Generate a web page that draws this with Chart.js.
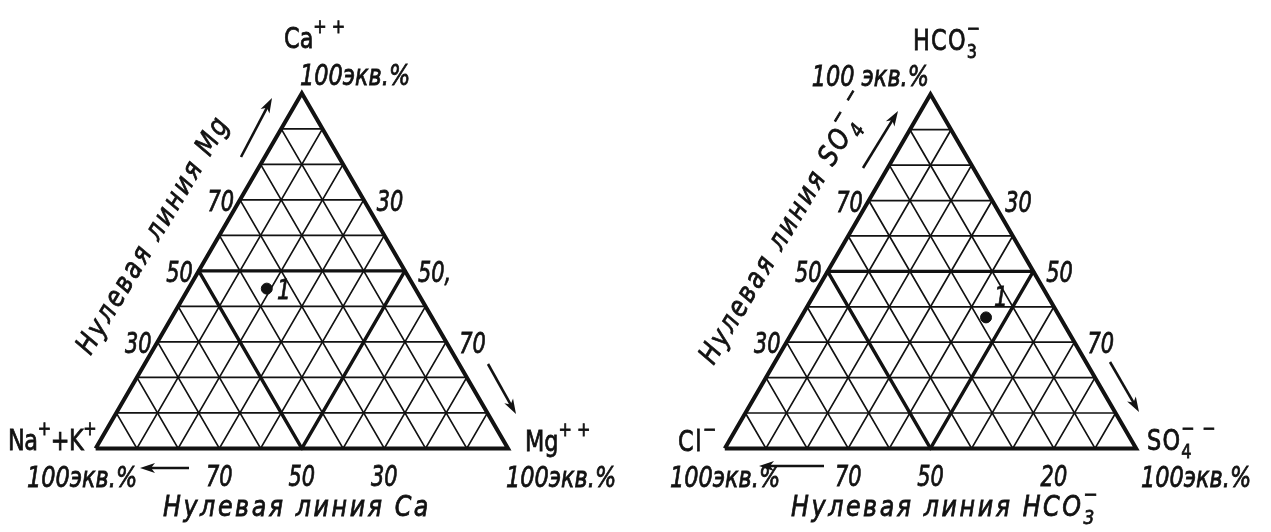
<!DOCTYPE html>
<html>
<head>
<meta charset="utf-8">
<script src="https://cdn.jsdelivr.net/npm/chart.js@4.4.1/dist/chart.umd.min.js"></script>
<style>
  body { margin: 0; background: #fff; width: 1271px; height: 532px; overflow: hidden; position: relative; }
  canvas { position: absolute; top: 0; }
  #cations { left: 0; }
  #anions { left: 636px; }
</style>
</head>
<body>
<canvas id="cations" width="636" height="532"></canvas>
<canvas id="anions" width="635" height="532"></canvas>
<script>
// grid every 10 equiv. %, the 50 % lines are drawn heavy
const gridLevels = [10, 20, 30, 40, 50, 60, 70, 80, 90];
const boldLevel = 50;

// tick labels on the sides
const leftSideTicks = [70, 50, 30];
const rightSideTicks = ['30', '50,', '70'];
const rightSideTicksAnion = ['30', '50', '70'];
const cationBottomTicks = [70, 50, 30];
const anionBottomTicks = [70, 50, 20];

// water sample 1, equiv. %: [top corner, right corner, left corner]
const cationSample = [45, 19, 36]; // Ca, Mg, Na+K
const anionSample = [37, 45, 18];  // HCO3, SO4, Cl

const INK = '#121212';
const FAM = "'DejaVu Sans', sans-serif";

// ternary -> plot units (side = 1, height = 1)
const toXY = (top, right) => ({ x: right / 100 + top / 200, y: top / 100 });

function seg(a, b, width) {
  return {
    data: [a, b],
    showLine: true,
    borderColor: INK,
    borderWidth: width,
    pointRadius: 0,
    borderCapStyle: 'round',
  };
}

function triangleDatasets(sample) {
  const sets = [];
  gridLevels.forEach((k) => {
    const w = k === boldLevel ? 3.4 : 1.7;
    sets.push(seg(toXY(k, 0), toXY(k, 100 - k), w));        // constant top
    sets.push(seg(toXY(0, k), toXY(100 - k, k), w));        // constant right
    sets.push(seg(toXY(0, 100 - k), toXY(100 - k, 0), w));  // constant left
  });
  sets.push({
    data: [toXY(0, 0), toXY(0, 100), toXY(100, 0), toXY(0, 0)],
    showLine: true,
    borderColor: INK,
    borderWidth: 4,
    borderJoinStyle: 'miter',
    pointRadius: 0,
  });
  sets.push({
    data: [toXY(sample[0], sample[1])],
    pointRadius: 5.5,
    pointBackgroundColor: INK,
    pointBorderColor: INK,
  });
  return sets;
}

// text with sub/superscripts: runs of [text, kind], kind n | sup | sub | over
function rich(ctx, runs, x, y, o) {
  const fontFor = (k) => (o.italic ? 'italic ' : '') + Math.round(k === 'n' ? o.size : o.size * 0.72) + 'px ' + FAM;
  ctx.save();
  ctx.fillStyle = INK;
  ctx.strokeStyle = INK;
  ctx.lineWidth = 0.8;
  ctx.textBaseline = 'alphabetic';
  ctx.letterSpacing = (o.spacing || 0) + 'px';
  let w = 0;
  let prevStart = 0;
  const placed = [];
  runs.forEach(([t, k]) => {
    ctx.font = fontFor(k);
    const tw = ctx.measureText(t).width;
    if (k === 'over') {
      placed.push({ t, k, sx: prevStart });
    } else {
      placed.push({ t, k, sx: w });
      prevStart = w;
      w += tw;
    }
  });
  ctx.translate(x, y);
  if (o.angle) ctx.rotate(o.angle * Math.PI / 180);
  ctx.scale(o.sx || 0.8, 1);
  const off = o.align === 'center' ? -w / 2 : o.align === 'right' ? -w : 0;
  placed.forEach((p) => {
    ctx.font = fontFor(p.k);
    let dy = 0;
    if (p.k === 'sup' || p.k === 'over') dy = -o.size * 0.55;
    if (p.k === 'sub') dy = o.size * 0.3;
    ctx.fillText(p.t, off + p.sx, dy + (o.dy || 0));
    ctx.strokeText(p.t, off + p.sx, dy + (o.dy || 0)); // heavier pen, like the drawing
  });
  ctx.restore();
}

function arrow(ctx, x1, y1, x2, y2) {
  const a = Math.atan2(y2 - y1, x2 - x1);
  ctx.save();
  ctx.strokeStyle = INK;
  ctx.fillStyle = INK;
  ctx.lineWidth = 2.6;
  ctx.beginPath();
  ctx.moveTo(x1, y1);
  ctx.lineTo(x2 - 8 * Math.cos(a), y2 - 8 * Math.sin(a));
  ctx.stroke();
  ctx.beginPath();
  ctx.moveTo(x2, y2);
  ctx.lineTo(x2 - 15 * Math.cos(a) + 5 * Math.sin(a), y2 - 15 * Math.sin(a) - 5 * Math.cos(a));
  ctx.lineTo(x2 - 11 * Math.cos(a), y2 - 11 * Math.sin(a));
  ctx.lineTo(x2 - 15 * Math.cos(a) - 5 * Math.sin(a), y2 - 15 * Math.sin(a) + 5 * Math.cos(a));
  ctx.closePath();
  ctx.fill();
  ctx.restore();
}

function tickLabels(chart, leftTicks, rightTicks, bottomTicks) {
  const { ctx } = chart;
  const px = (p) => [chart.scales.x.getPixelForValue(p.x), chart.scales.y.getPixelForValue(p.y)];
  const it = { size: 29, italic: true, dy: 10, sx: 0.72 };
  leftTicks.forEach((v) => {
    const [x, y] = px(toXY(v, 0));
    rich(ctx, [[String(v), 'n']], x - 6, y + 1, { ...it, align: 'right' });
  });
  rightTicks.forEach((v) => {
    const [x, y] = px(toXY(100 - parseInt(v, 10), parseInt(v, 10)));
    rich(ctx, [[v, 'n']], x + 13, y + 1, { ...it, align: 'left' });
  });
  bottomTicks.forEach((v) => {
    const [x] = px(toXY(0, 100 - v));
    rich(ctx, [[String(v), 'n']], x, 476, { ...it, align: 'center' });
  });
}

function makeChart(id, frame, sample, drawText) {
  const canvas = document.getElementById(id);
  const W = canvas.width;
  const H = canvas.height;
  const ux = frame.right - frame.left;
  const uy = frame.base - frame.apex;
  const xmin = -frame.left / ux;
  const ymax = frame.base / uy;
  return new Chart(canvas, {
    type: 'scatter',
    data: { datasets: triangleDatasets(sample) },
    options: {
      responsive: false,
      animation: false,
      events: [],
      layout: { padding: 0 },
      scales: {
        x: { type: 'linear', display: false, min: xmin, max: xmin + W / ux },
        y: { type: 'linear', display: false, min: ymax - H / uy, max: ymax },
      },
      plugins: { legend: { display: false }, tooltip: { enabled: false } },
    },
    plugins: [{ id: 'labels', afterDatasetsDraw: (chart) => drawText(chart) }],
  });
}

const pct = { size: 28, italic: true, sx: 0.8 };
const title = { size: 28, italic: true, sx: 0.85, spacing: 3, align: 'center' };
const up = { size: 28, sx: 0.8 };

makeChart('cations', { left: 91, right: 512, apex: 89, base: 453 }, cationSample, (chart) => {
  const { ctx } = chart;
  rich(ctx, [['Ca', 'n'], ['+ +', 'sup']], 284, 48, up);
  rich(ctx, [['Na', 'n'], ['+', 'sup'], ['+K', 'n'], ['+', 'sup']], 8, 450, { ...up, spacing: -0.5 });
  rich(ctx, [['Mg', 'n'], ['+ +', 'sup']], 525, 451, up);
  rich(ctx, [['100экв.%', 'n']], 300, 85, pct);
  rich(ctx, [['100экв.%', 'n']], 27, 487, pct);
  rich(ctx, [['100экв.%', 'n']], 506, 487, pct);
  rich(ctx, [['Нулевая линия Ca', 'n']], 297, 516, title);
  rich(ctx, [['Нулевая линия Mg', 'n']], 152, 234, { ...title, angle: -59, dy: 10 });
  rich(ctx, [['1', 'n']], 277, 299, { size: 27, italic: true });
  tickLabels(chart, leftSideTicks, rightSideTicks, cationBottomTicks);
  arrow(ctx, 241, 157, 272, 98);
  arrow(ctx, 488, 364, 516, 414);
  arrow(ctx, 189, 468, 140, 468);
});

makeChart('anions', { left: 84, right: 504, apex: 90, base: 453 }, anionSample, (chart) => {
  const { ctx } = chart;
  rich(ctx, [['HCO', 'n'], ['3', 'sub'], ['−', 'over']], 277, 50, { ...up, spacing: 1.5 });
  rich(ctx, [['Cl', 'n'], ['−', 'sup']], 42, 451, { ...up, spacing: 2 });
  rich(ctx, [['SO', 'n'], ['4', 'sub'], ['− −', 'over']], 511, 450, { ...up, spacing: 1.5 });
  rich(ctx, [['100 экв.%', 'n']], 293, 86, { ...pct, align: 'right' });
  rich(ctx, [['100экв.%', 'n']], 34, 487, pct);
  rich(ctx, [['100экв.%', 'n']], 505, 487, pct);
  rich(ctx, [['Нулевая линия HCO', 'n'], ['3', 'sub'], ['−', 'over']], 308, 516, title);
  rich(ctx, [['Нулевая линия SO', 'n'], ['4', 'sub'], ['− −', 'over']], 142, 239, { ...title, angle: -59, dy: 10 });
  rich(ctx, [['1', 'n']], 358, 306, { size: 27, italic: true });
  tickLabels(chart, leftSideTicks, rightSideTicksAnion, anionBottomTicks);
  arrow(ctx, 227, 168, 262, 111);
  arrow(ctx, 474, 362, 503, 412);
  arrow(ctx, 188, 466, 123, 466);
});
</script>
</body>
</html>
